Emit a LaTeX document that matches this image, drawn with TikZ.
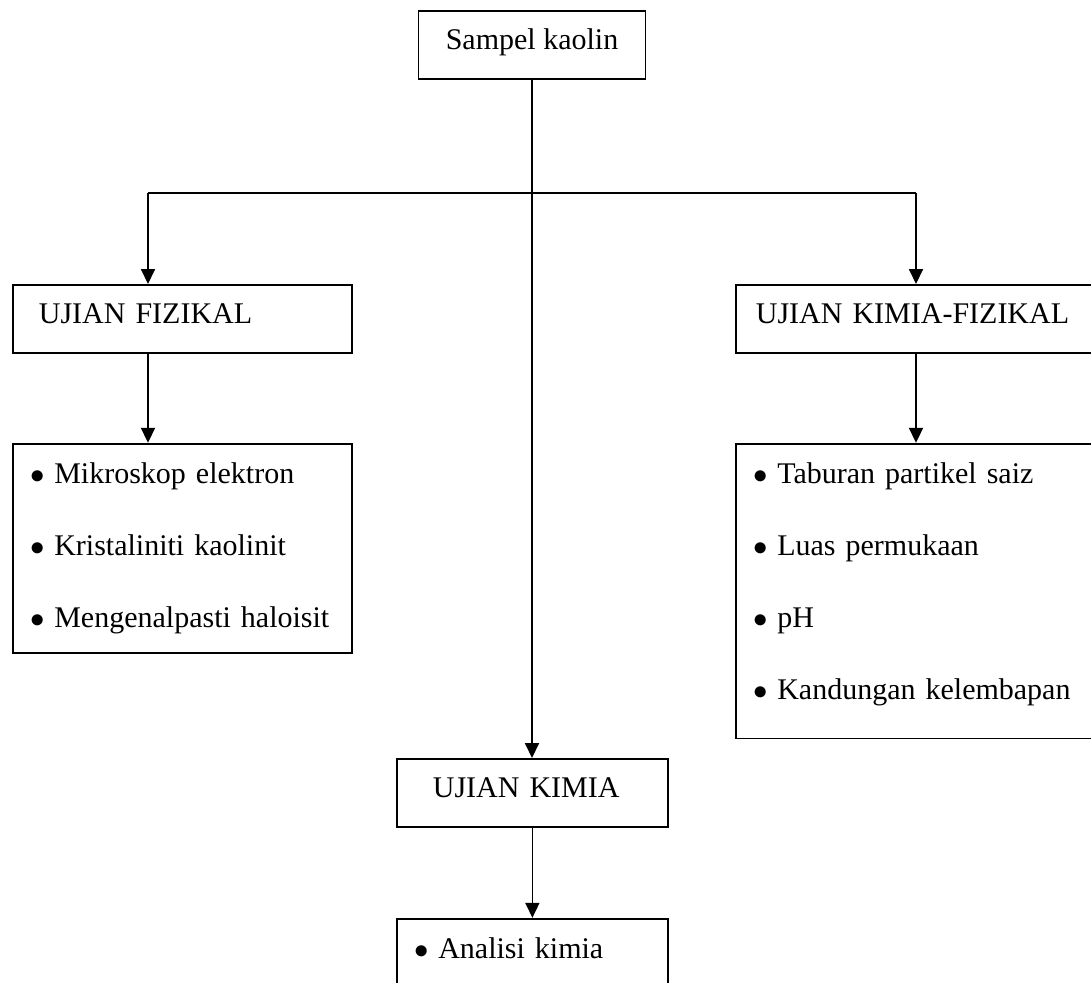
\documentclass[tikz,border=0pt]{standalone}
\usepackage{fontspec}
\setmainfont{Liberation Serif}
\usetikzlibrary{positioning,arrows.meta}
\newcommand{\butir}{$\bullet$\hspace{4.5pt}}

\begin{document}
\begin{tikzpicture}[
  x=0.5pt,y=-0.5pt,
  font=\fontsize{15pt}{18pt}\selectfont,
  box/.style={draw,line width=0.9pt},
  hbox/.style={box,minimum height=34pt,text height=10pt,text depth=5.5pt,align=left},
  lbox/.style={box,align=left,inner xsep=9pt,inner ysep=9.5pt,font=\fontsize{15pt}{36pt}\selectfont},
  ar/.style={-{Triangle[length=7.5pt,width=7pt]},line width=0.9pt}
]
\path[use as bounding box] (0,0) rectangle (1091,982);
\clip (0,0) rectangle (1091,982);
\node[box,anchor=north,minimum width=113.5pt,minimum height=34pt,text height=10pt,text depth=5.5pt] (sampel) at (532,10) {Sampel kaolin};
% --- three test groups ---
\node[hbox,anchor=north west,inner xsep=13pt,text width=143.5pt] (fiz) at (12,284) {UJIAN FIZIKAL};
\node[hbox,anchor=north west,inner xsep=10pt,text width=161pt] (kf) at (735,284) {UJIAN KIMIA-FIZIKAL};
\node[hbox,anchor=north west,inner xsep=18pt,text width=99.5pt] (kimia) at (396,758) {UJIAN KIMIA};
% --- lists of tests ---
\node[lbox,below=44.5pt of fiz.south west,anchor=north west,text width=151.5pt] (fizlist)
     {\butir Mikroskop elektron\\ \butir Kristaliniti kaolinit\\ \butir Mengenalpasti haloisit};
\node[lbox,below=44.5pt of kf.south west,anchor=north west,text width=163pt] (kflist)
     {\butir Taburan partikel saiz\\ \butir Luas permukaan\\ \butir pH\\ \butir Kandungan kelembapan\rule[-10pt]{0pt}{10pt}};
% bottom box runs past the page edge
\node[lbox,below=45pt of kimia.south west,anchor=north west,text width=117.5pt] (analisi)
     {\butir Analisi kimia\rule[-40pt]{0pt}{40pt}};

\coordinate (bl) at (148,193);
\coordinate (br) at (916,193);
\draw[ar] (sampel.south) -- (sampel.south |- kimia.north);
\draw[line width=0.9pt] (bl) -- (br);
\draw[ar] (bl) -- (bl |- fiz.north);
\draw[ar] (br) -- (br |- kf.north);
\draw[ar] (bl |- fiz.south) -- (bl |- fizlist.north);
\draw[ar] (br |- kf.south) -- (br |- kflist.north);
\draw[ar] (kimia.south) -- (analisi.north);
\end{tikzpicture}
\end{document}
